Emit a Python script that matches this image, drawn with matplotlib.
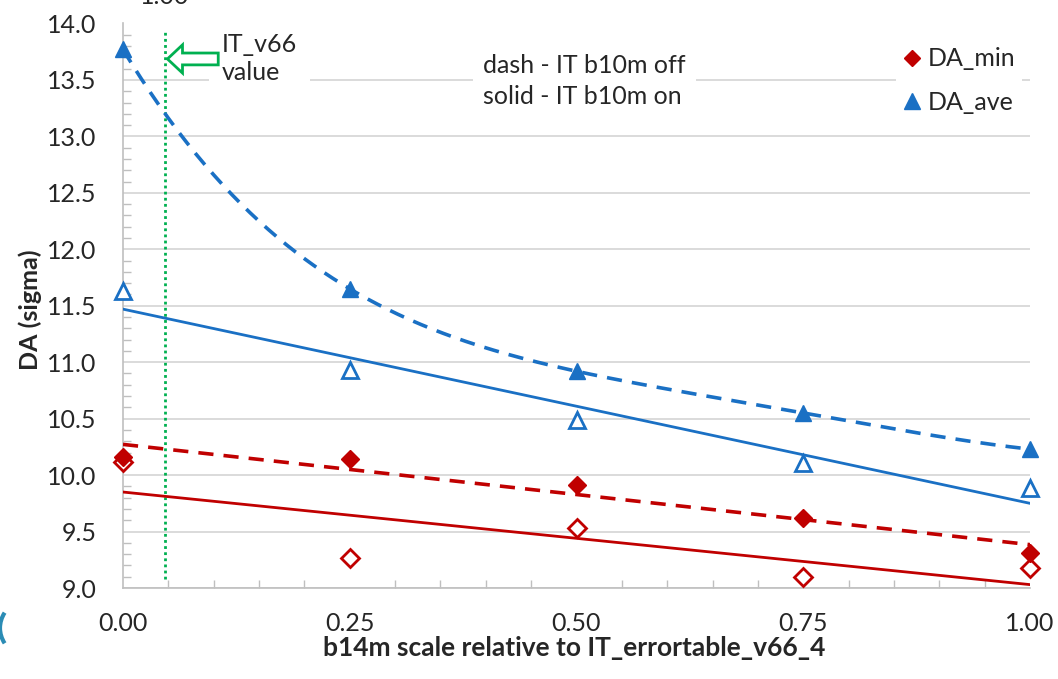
import numpy as np
import matplotlib
matplotlib.use("Agg")
import matplotlib.pyplot as plt
from matplotlib.lines import Line2D
from matplotlib.patches import FancyArrow, Arc
from matplotlib.ticker import MultipleLocator

plt.rcParams['font.family'] = ['Lato', 'DejaVu Sans']

# b14m scale values
scale = [0.0, 0.25, 0.50, 0.75, 1.0]

# dynamic aperture, IT b10m off (dashed trend) / on (solid trend)
da_ave_off = [13.77, 11.65, 10.92, 10.55, 10.23]
da_ave_on = [11.63, 10.93, 10.49, 10.11, 9.89]
da_min_off = [10.16, 10.14, 9.91, 9.62, 9.31]
da_min_on = [10.12, 9.27, 9.53, 9.10, 9.18]

x_ticks = [0.0, 0.25, 0.50, 0.75, 1.0]
x_ticklabels = ["0.00", "0.25", "0.50", "0.75", "1.00"]
y_ticks = [9.0, 9.5, 10.0, 10.5, 11.0, 11.5, 12.0, 12.5, 13.0, 13.5, 14.0]
it_v66_scale = 0.046

BLUE = '#1a70c4'
RED = '#c00000'
GREEN = '#00b050'
GRID = '#d4d4d4'
TEXT = '#262626'
FS = 18

W, H = 1058, 679
fig = plt.figure(figsize=(W / 100, H / 100), dpi=100)
ax = fig.add_axes([123 / W, 1 - 588 / H, (1030 - 123) / W, (588 - 23.5) / H])
ax.set_xlim(0, 1)
ax.set_ylim(9.0, 14.0)

# axes cosmetics
for s in ['top', 'right']:
    ax.spines[s].set_visible(False)
for s in ['left', 'bottom']:
    ax.spines[s].set_color('#bfbfbf')
    ax.spines[s].set_linewidth(1.2)
ax.set_xticks(x_ticks)
ax.set_xticklabels(x_ticklabels)
ax.set_yticks(y_ticks)
ax.set_yticklabels([f"{v:.1f}" for v in y_ticks])
ax.xaxis.set_minor_locator(MultipleLocator(0.05))
ax.yaxis.set_minor_locator(MultipleLocator(0.1))
ax.tick_params(axis='both', which='both', direction='in', color='#bfbfbf', width=1)
ax.tick_params(axis='both', which='major', length=0, labelsize=FS, labelcolor=TEXT)
ax.tick_params(axis='both', which='minor', length=6)
ax.tick_params(axis='x', which='major', pad=17)
ax.tick_params(axis='y', which='major', pad=19)
ax.yaxis.grid(True, which='major', color=GRID, linewidth=1.2)
ax.set_axisbelow(True)

# trend lines
xs = np.linspace(0, 1, 400)
dash = (0, (4.2, 2.8))
ave_off_fit = np.polyval(np.polyfit(scale, da_ave_off, 4), xs)
ax.plot(xs, ave_off_fit, color=BLUE, lw=2.6, linestyle=dash, zorder=3)
ax.plot(xs, np.polyval(np.polyfit(scale, da_ave_on, 1), xs), color=BLUE, lw=2.0, zorder=3)
ax.plot(xs, np.polyval(np.polyfit(scale, da_min_off, 1), xs), color=RED, lw=2.6, linestyle=dash, zorder=3)
ax.plot(xs, np.polyval(np.polyfit(scale, da_min_on, 1), xs), color=RED, lw=2.0, zorder=3)

# data points
ax.plot(scale, da_min_on, linestyle='none', marker='D', ms=9, mfc='white', mec=RED, mew=2, clip_on=False, zorder=4)
ax.plot(scale, da_ave_on, linestyle='none', marker='^', ms=12, mfc='white', mec=BLUE, mew=2, clip_on=False, zorder=4)
ax.plot(scale, da_min_off, linestyle='none', marker='D', ms=9, mfc=RED, mec=RED, mew=1, clip_on=False, zorder=5)
ax.plot(scale, da_ave_off, linestyle='none', marker='^', ms=12, mfc=BLUE, mec=BLUE, mew=1, clip_on=False, zorder=5)

# IT_v66 reference line and annotation
ax.plot([it_v66_scale, it_v66_scale], [9.08, 13.93], color=GREEN, lw=2, linestyle=(0, (1, 1.2)), zorder=2)
ax.text(0.109, 13.69, "IT_v66\nvalue", fontsize=FS, color=TEXT, ha='left', va='center',
        linespacing=1.3, zorder=6,
        bbox=dict(facecolor='white', edgecolor='none', boxstyle='square,pad=0.5'))
arrow = FancyArrow(0.105, 13.686, -0.056, 0, width=0.105, head_width=0.25,
                   head_length=0.0166, length_includes_head=True,
                   facecolor='white', edgecolor=GREEN, linewidth=2, zorder=7)
ax.add_patch(arrow)

ax.text(0.397, 13.49, "dash - IT b10m off\nsolid - IT b10m on", fontsize=FS, color=TEXT,
        ha='left', va='center', linespacing=1.45, zorder=6,
        bbox=dict(facecolor='white', edgecolor='none', boxstyle='square,pad=0.4'))

# legend
handles = [
    Line2D([], [], linestyle='none', marker='D', ms=8, mfc=RED, mec=RED),
    Line2D([], [], linestyle='none', marker='^', ms=11, mfc=BLUE, mec=BLUE),
]
leg = ax.legend(handles, ["DA_min", "DA_ave"], loc='upper left',
                bbox_to_anchor=(896 / W, 1 - 40 / H), bbox_transform=fig.transFigure,
                frameon=True, fontsize=FS, handlelength=0.7, handletextpad=0.25,
                labelspacing=0.8, borderpad=0.3, borderaxespad=0)
leg.get_frame().set_edgecolor('none')
leg.get_frame().set_facecolor('white')
leg.get_frame().set_alpha(1)
for t in leg.get_texts():
    t.set_color(TEXT)

# axis labels
fig.text(30 / W, 1 - 310 / H, "DA (sigma)", rotation=90, fontsize=FS, fontweight='bold',
         color=TEXT, ha='center', va='center')
fig.text(574 / W, 1 - 648 / H, "b14m scale relative to IT_errortable_v66_4", fontsize=19,
         fontweight='bold', color=TEXT, ha='center', va='center')

# clipped label at the top edge
fig.text(165 / W, 1 - 8 / H, "1.00", fontsize=FS, color=TEXT, ha='center', va='bottom')

# slide decoration at the lower left corner
fig.add_artist(Arc((46 / W, 1 - 628 / H), 92 / W, 70 / H, theta1=150, theta2=210,
                   transform=fig.transFigure, color='#2b8cb5', lw=3))

fig.savefig("out.png", dpi=100)
